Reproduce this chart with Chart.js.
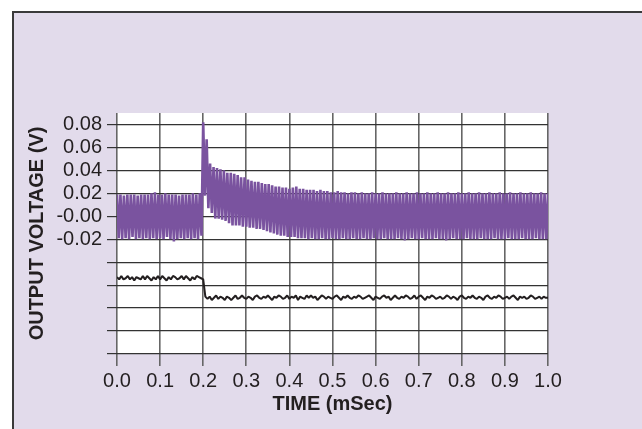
<!DOCTYPE html>
<html>
<head>
<meta charset="utf-8">
<script src="https://cdn.jsdelivr.net/npm/chart.js@4"></script>
<style>
  html, body { margin: 0; padding: 0; background: #ffffff; }
  #frame { position: absolute; left: 12px; top: 11px; width: 640px; height: 430px;
           border-left: 2px solid #3a3a3a; border-top: 2px solid #3a3a3a; background: #e2dbeb; }
  #c { position: absolute; left: 0; top: 0; }
</style>
</head>
<body>
<div id="frame"></div>
<canvas id="c" width="642" height="429"></canvas>
<script>
// ---- data ----
const rippleStep = 0.004;   // mSec between ripple samples
const rippleV = [
  0.019,-0.019, 0.019,-0.020, 0.018,-0.019, 0.019,-0.020, 0.019,-0.018,
  0.019,-0.020, 0.018,-0.019, 0.019,-0.020, 0.019,-0.019, 0.019,-0.020,
  0.020,-0.019, 0.021,-0.020, 0.019,-0.019, 0.019,-0.020, 0.020,-0.018,
  0.019,-0.020, 0.019,-0.022, 0.019,-0.020, 0.018,-0.019, 0.019,-0.020,
  0.019,-0.019, 0.019,-0.020, 0.020,-0.019, 0.019,-0.020, 0.020,-0.017,
  0.082, 0.018, 0.067, 0.007, 0.046, 0.003, 0.043,-0.002, 0.042,-0.002,
  0.041,-0.003, 0.040,-0.004, 0.038,-0.006, 0.038,-0.008, 0.037,-0.008,
  0.036,-0.008, 0.034,-0.009, 0.034,-0.009, 0.032,-0.010, 0.031,-0.010,
  0.030,-0.011, 0.030,-0.011, 0.029,-0.012, 0.028,-0.013, 0.028,-0.014,
  0.027,-0.015, 0.026,-0.016, 0.026,-0.017, 0.025,-0.017, 0.025,-0.018,
  0.024,-0.018, 0.025,-0.018, 0.026,-0.019, 0.024,-0.019, 0.024,-0.019,
  0.023,-0.020, 0.023,-0.019, 0.023,-0.020, 0.022,-0.020, 0.023,-0.019,
  0.022,-0.020, 0.022,-0.020, 0.021,-0.019, 0.021,-0.020, 0.022,-0.020,
  0.021,-0.019, 0.021,-0.020, 0.020,-0.020, 0.021,-0.019, 0.021,-0.020,
  0.020,-0.020, 0.021,-0.019, 0.020,-0.020, 0.020,-0.020, 0.021,-0.019,
  0.020,-0.020, 0.020,-0.020, 0.021,-0.019, 0.020,-0.020, 0.020,-0.020,
  0.020,-0.020, 0.021,-0.019, 0.020,-0.020, 0.020,-0.021, 0.021,-0.020,
  0.020,-0.019, 0.020,-0.020, 0.021,-0.020, 0.020,-0.019, 0.020,-0.020,
  0.021,-0.020, 0.020,-0.020, 0.020,-0.019, 0.021,-0.020, 0.020,-0.020,
  0.020,-0.021, 0.021,-0.020, 0.020,-0.019, 0.020,-0.020, 0.021,-0.020,
  0.020,-0.020, 0.020,-0.019, 0.021,-0.020, 0.020,-0.020, 0.020,-0.020,
  0.021,-0.019, 0.020,-0.020, 0.020,-0.020, 0.021,-0.020, 0.020,-0.019,
  0.020,-0.020, 0.021,-0.020, 0.020,-0.020, 0.020,-0.019, 0.021,-0.020,
  0.020,-0.020, 0.020,-0.020, 0.021,-0.019, 0.020,-0.020, 0.020,-0.020,
  0.021,-0.020, 0.020,-0.019, 0.020,-0.020, 0.021,-0.020, 0.020,-0.020,
  0.020
];

const stepStep = 0.005;     // mSec between lower-trace samples
const stepV = [
  -0.053,-0.055,-0.052,-0.055,-0.054,-0.052,-0.055,-0.053,-0.056,-0.053,
  -0.054,-0.055,-0.052,-0.055,-0.052,-0.054,-0.056,-0.053,-0.055,-0.052,
  -0.055,-0.052,-0.054,-0.056,-0.053,-0.055,-0.052,-0.053,-0.055,-0.054,
  -0.052,-0.055,-0.052,-0.054,-0.056,-0.053,-0.055,-0.052,-0.053,-0.054,
  -0.055,-0.070,-0.072,-0.070,-0.073,-0.071,-0.069,-0.072,-0.070,-0.071,
  -0.073,-0.070,-0.071,-0.073,-0.071,-0.069,-0.072,-0.071,-0.069,-0.071,
  -0.072,-0.070,-0.071,-0.073,-0.070,-0.069,-0.071,-0.072,-0.070,-0.071,
  -0.069,-0.071,-0.073,-0.070,-0.071,-0.069,-0.070,-0.072,-0.071,-0.069,
  -0.072,-0.070,-0.071,-0.069,-0.073,-0.070,-0.071,-0.072,-0.069,-0.071,
  -0.069,-0.071,-0.070,-0.073,-0.071,-0.069,-0.070,-0.072,-0.070,-0.071,
  -0.072,-0.070,-0.069,-0.071,-0.073,-0.070,-0.071,-0.069,-0.071,-0.072,
  -0.070,-0.071,-0.069,-0.070,-0.072,-0.071,-0.070,-0.069,-0.071,-0.073,
  -0.070,-0.071,-0.072,-0.070,-0.069,-0.071,-0.070,-0.073,-0.071,-0.069,
  -0.071,-0.072,-0.070,-0.071,-0.069,-0.070,-0.072,-0.071,-0.069,-0.072,
  -0.070,-0.069,-0.071,-0.073,-0.070,-0.071,-0.069,-0.070,-0.072,-0.071,
  -0.070,-0.072,-0.071,-0.069,-0.070,-0.072,-0.070,-0.071,-0.073,-0.070,
  -0.069,-0.071,-0.072,-0.070,-0.071,-0.069,-0.071,-0.072,-0.070,-0.071,
  -0.073,-0.070,-0.069,-0.071,-0.072,-0.070,-0.071,-0.069,-0.070,-0.072,
  -0.071,-0.070,-0.072,-0.070,-0.069,-0.071,-0.073,-0.070,-0.071,-0.070,
  -0.072,-0.071,-0.069,-0.070,-0.072,-0.071,-0.070,-0.072,-0.070,-0.071,
  -0.071
];

const xTickValues = [0, 0.1, 0.2, 0.3, 0.4, 0.5, 0.6, 0.7, 0.8, 0.9, 1.0];
const xTickLabels = ['0.0','0.1','0.2','0.3','0.4','0.5','0.6','0.7','0.8','0.9','1.0'];
const yTickValues = [-0.12, -0.10, -0.08, -0.06, -0.04, -0.02, 0.00, 0.02, 0.04, 0.06, 0.08];
const yTickLabels = ['', '', '', '', '', '-0.02', '-0.00', '0.02', '0.04', '0.06', '0.08'];

// ---- chart ----
const FONT = "'Liberation Sans', Arial, Helvetica, sans-serif";
const TXT = '#231f20';

const plotBg = {
  id: 'plotBg',
  beforeDraw(chart) {
    const a = chart.chartArea, ctx = chart.ctx;
    ctx.save();
    ctx.fillStyle = '#ffffff';
    ctx.fillRect(a.left, a.top, a.right - a.left, a.bottom - a.top);
    ctx.restore();
  }
};

new Chart(document.getElementById('c'), {
  type: 'line',
  data: {
    datasets: [
      {
        data: rippleV.map((v, i) => ({ x: +(i * rippleStep).toFixed(4), y: v })),
        borderColor: '#7a539f',
        borderWidth: 2.6,
        borderJoinStyle: 'bevel',
        pointRadius: 0,
        tension: 0,
        fill: false
      },
      {
        data: stepV.map((v, i) => ({ x: +(i * stepStep).toFixed(4), y: v })),
        borderColor: '#231f20',
        borderWidth: 2,
        borderJoinStyle: 'bevel',
        pointRadius: 0,
        tension: 0,
        fill: false
      }
    ]
  },
  options: {
    responsive: false,
    animation: false,
    devicePixelRatio: 1,
    layout: { padding: { top: 113, right: 94, left: 0, bottom: 0 } },
    plugins: { legend: { display: false }, tooltip: { enabled: false } },
    scales: {
      x: {
        type: 'linear',
        min: 0, max: 1,
        afterBuildTicks: s => { s.ticks = xTickValues.map(v => ({ value: v })); },
        afterFit: s => { s.height = 75; },
        ticks: {
          autoSkip: false, maxRotation: 0, padding: 3,
          color: TXT, font: { family: FONT, size: 20 },
          callback: (v, i) => xTickLabels[i]
        },
        grid: { color: '#666666', lineWidth: 1.6, tickLength: 12, drawTicks: true },
        border: { display: false },
        title: {
          display: true, text: 'TIME (mSec)', color: TXT,
          font: { family: FONT, size: 20, weight: 'bold' },
          padding: { top: 0, bottom: 13 }
        }
      },
      y: {
        type: 'linear',
        min: -0.12, max: 0.09,
        afterBuildTicks: s => { s.ticks = yTickValues.map(v => ({ value: v })); },
        afterFit: s => { s.width = 117; },
        ticks: {
          autoSkip: false, padding: 5,
          color: TXT, font: { family: FONT, size: 20 },
          callback: (v, i) => yTickLabels[i]
        },
        grid: { color: '#333333', lineWidth: 1.2, tickLength: 10, drawTicks: true },
        border: { display: false },
        title: {
          display: true, text: 'OUTPUT VOLTAGE (V)', color: TXT,
          font: { family: FONT, size: 20, weight: 'bold' },
          padding: { top: 25, bottom: 0 }
        }
      }
    }
  },
  plugins: [plotBg]
});
</script>
</body>
</html>
